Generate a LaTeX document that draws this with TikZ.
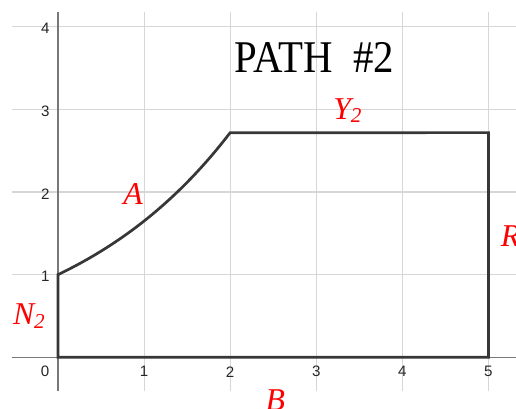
\documentclass[tikz,border=0pt]{standalone}
\usepackage{fontspec}
\setmainfont{Liberation Serif}
\newfontfamily\tickfont{Liberation Sans}
\usetikzlibrary{positioning}
\definecolor{gridgray}{RGB}{214,214,214}
\definecolor{axisgray}{RGB}{120,120,120}
\definecolor{pathgray}{RGB}{55,55,55}
\newcommand{\seglab}[2]{#1\raisebox{-0.1em}{\fontsize{14}{16}\selectfont #2}}
\tikzset{
  gridline/.style={draw=gridgray, line width=0.8pt},
  axisline/.style={draw=axisgray, line width=1pt},
  pathline/.style={draw=pathgray, line width=1.8pt, line join=miter},
  ticklabel/.style={font=\tickfont\fontsize{10}{12}\selectfont, text=black!85, inner sep=0pt},
  seglabel/.style={font=\fontsize{21}{24}\selectfont\itshape, text=red, inner sep=0pt, anchor=base west},
}
\begin{document}
\begin{tikzpicture}[x=2cm, y=1.92cm]
\useasboundingbox (-0.674,-0.626) rectangle (5.32,4.323);
% grid
\foreach \i in {1,...,5} \draw[gridline] (\i,-0.404) -- (\i,4.178);
\foreach \j in {1,...,4} \draw[gridline] (-0.534,\j) -- (5.32,\j);
% axes
\draw[axisline] (-0.534,0) -- (5.32,0);
\draw[axisline] (0,-0.404) -- (0,4.178);
% tick labels
\node[ticklabel] (xt0) at (-0.15,-0.168) {0};
\foreach \i in {1,...,5} \node[ticklabel] (xt\i) at (\i,-0.175) {\i};
\foreach \j in {1,...,4} \node[ticklabel, anchor=east] (yt\j) at (-0.095,\j-0.025) {\j};
% the path
\coordinate (O) at (0,0);
\coordinate (P) at (0,1);
\coordinate (Q) at (2,{exp(1)});
\coordinate (S) at (5,{exp(1)});
\coordinate (T) at (5,0);
\draw[pathline] (O) -- (P) -- plot[domain=0:2, samples=50] (\x,{exp(\x/2)}) -- (S) -- (T) -- cycle;
% labels
\node[seglabel] (N2) at (-0.526,0.391) {\seglab{N}{2}};
\node[seglabel] (A) at (0.755,1.844) {A};
\node[seglabel] (Y2) at (3.194,2.883) {\seglab{Y}{2}};
\node[seglabel] (R) at (5.14,1.338) {R};
\node[seglabel] (B) at (2.408,-0.65) {B};
\node[font=\fontsize{30}{34}\selectfont, inner sep=0pt] (title) at (2.98,3.625) {\scalebox{0.9}[1]{PATH\ \ \#2}};
\end{tikzpicture}
\end{document}
